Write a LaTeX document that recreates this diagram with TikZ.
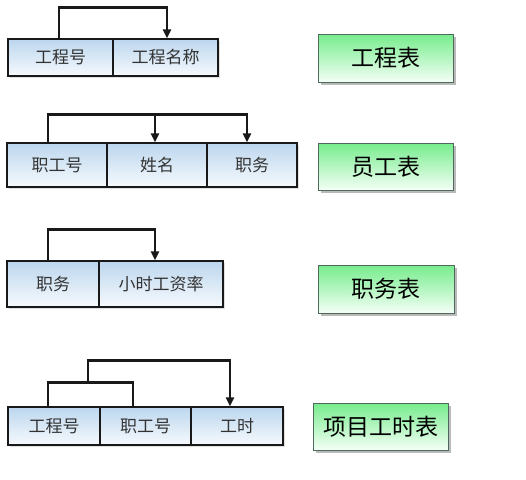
\documentclass[tikz,border=0pt]{standalone}
\usepackage{fontspec}
\newfontfamily\cjk{Noto Sans CJK SC}
\usetikzlibrary{arrows.meta,shadows,calc}
\definecolor{celltop}{RGB}{188,214,238}
\definecolor{cellbot}{RGB}{246,250,253}
\definecolor{greentop}{RGB}{118,236,140}
\definecolor{greenbot}{RGB}{244,255,246}
\definecolor{greenedge}{RGB}{80,105,95}
\tikzset{
  cell/.style={draw=black!90, line width=1.2pt, top color=celltop, bottom color=cellbot,
    inner sep=0pt, font=\cjk\fontsize{17}{17}\selectfont, text=black!80,
    drop shadow={shadow xshift=2pt, shadow yshift=-2pt, fill=black!20, opacity=0.6}},
  tablabel/.style={draw=greenedge, line width=0.9pt, top color=greentop, bottom color=greenbot,
    minimum width=135pt, minimum height=47pt, inner sep=0pt, font=\cjk\fontsize{23}{23}\selectfont,
    drop shadow={shadow xshift=3pt, shadow yshift=-3pt, fill=black!45, opacity=0.6}},
  link/.style={line width=2.2pt, black!90},
  arr/.style={link, -{Triangle[length=9pt,width=8pt]}}
}
\begin{document}
\begin{tikzpicture}[x=1pt,y=-1pt]
\useasboundingbox (0,0) rectangle (526,479);
% row 1
\node[cell, minimum width=105pt, minimum height=37pt] (r1a) at (60.5,57.5) {工程号};
\node[cell, minimum width=105pt, minimum height=37pt] (r1b) at (165.5,57.5) {工程名称};
% row 2
\node[cell, minimum width=100pt, minimum height=44pt] (r2a) at (57,165) {职工号};
\node[cell, minimum width=100pt, minimum height=44pt] (r2b) at (157,165) {姓名};
\node[cell, minimum width=90pt, minimum height=44pt] (r2c) at (252,165) {职务};
% row 3
\node[cell, minimum width=92pt, minimum height=46pt] (r3a) at (53,284) {职务};
\node[cell, minimum width=124pt, minimum height=46pt] (r3b) at (161,284) {小时工资率};
% row 4
\node[cell, minimum width=92pt, minimum height=38pt] (r4a) at (54,426) {工程号};
\node[cell, minimum width=91pt, minimum height=38pt] (r4b) at (145.5,426) {职工号};
\node[cell, minimum width=92pt, minimum height=38pt] (r4c) at (237,426) {工时};
% labels
\node[tablabel, minimum width=135pt, minimum height=48pt] (l1) at (385.5,58) {工程表};
\node[tablabel] (l2) at (385.5,166.5) {员工表};
\node[tablabel, minimum width=136pt, minimum height=48pt] (l3) at (386,289) {职务表};
\node[tablabel] (l4) at (380.5,426.5) {项目工时表};
% connectors
\draw[arr] ([xshift=-1.5pt]r1a.north) -- ++(0,-31) -| ([xshift=1.5pt]r1b.north);
\draw[arr] ([xshift=-9pt]r2a.north) -- ++(0,-28) -| ([xshift=-2pt]r2b.north);
\draw[arr] ([xshift=-9pt]r2a.north) -- ++(0,-28) -| ([xshift=-5pt]r2c.north);
\draw[arr] ([xshift=-5pt]r3a.north) -- ++(0,-31) -| ([xshift=-6pt]r3b.north);
\draw[link] ([xshift=-6pt]r4a.north) -- ++(0,-24) coordinate (k1) -| ([xshift=-12.5pt]r4b.north);
\coordinate (k2) at ($(k1)+(40,0)$);
\draw[arr] (k2) -- ++(0,-22) -| ([xshift=-7pt]r4c.north);
\end{tikzpicture}
\end{document}
